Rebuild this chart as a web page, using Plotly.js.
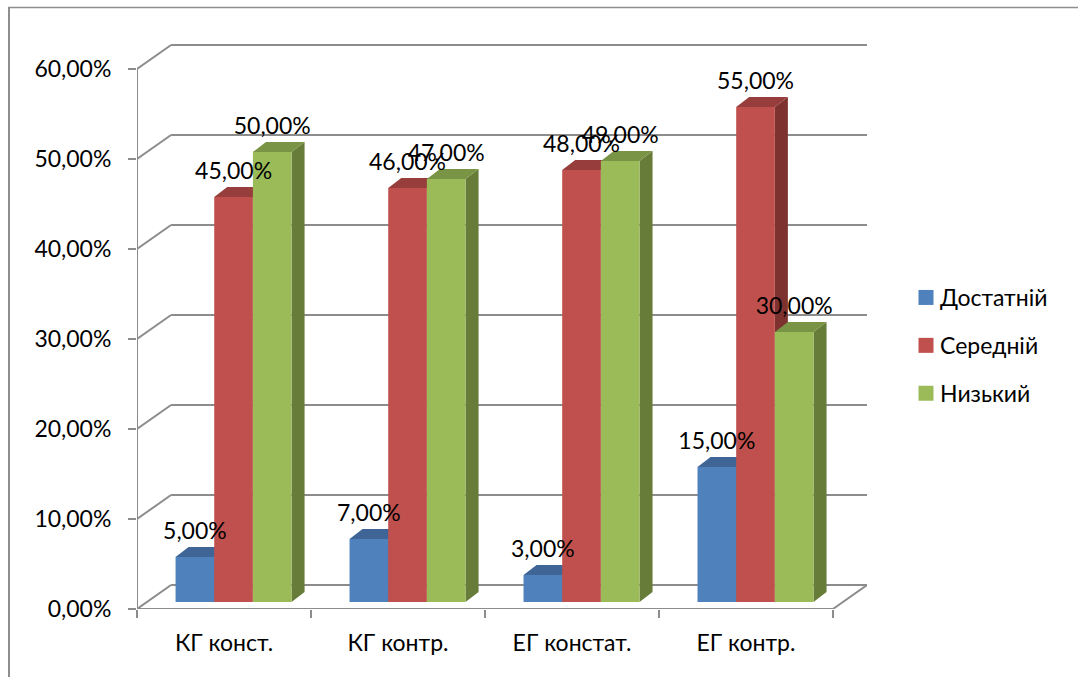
<!DOCTYPE html>
<html><head><meta charset="utf-8">
<script src="https://cdn.plot.ly/plotly-3.0.1.min.js"></script>
<style>html,body{margin:0;padding:0;background:#fff;overflow:hidden}</style>
</head><body><div id="chart" style="width:1078px;height:677px"></div>
<script>
const categories = ['КГ конст.', 'КГ контр.', 'ЕГ констат.', 'ЕГ контр.'];
const seriesNames = ['Достатній', 'Середній', 'Низький'];
const dostatniy = [5, 7, 3, 15];
const seredniy = [45, 46, 48, 55];
const nyzkyi = [50, 47, 49, 30];
const yTicks = [0, 10, 20, 30, 40, 50, 60];
const yTickText = ['0,00%', '10,00%', '20,00%', '30,00%', '40,00%', '50,00%', '60,00%'];
const frontColors = ['#4F81BD', '#C0504D', '#9BBB59'];
const topColors = ['#3E6596', '#973E3C', '#7A9445'];
const sideColors = ['#355680', '#7D3230', '#667C38'];

// pseudo-3D projection, in axis units
const wallDX = 34 / 173.7, wallDY = 24 / 9;   // depth of floor / back wall
const barDX = 13 / 173.7, barDY = 1.1;        // depth of a column
const barBase = 0.78, groupShift = 0.055;     // column position inside the floor
const barW = 2 / 9;
const all = [dostatniy, seredniy, nyzkyi];
const FONT = 'Lato, Carlito, Calibri, sans-serif';

const traces = [];
function faceTrace(xs, ys, color) {
  return {type: 'scatter', mode: 'lines', x: xs, y: ys, fill: 'toself', fillcolor: color,
    line: {width: 0, color: color}, hoverinfo: 'skip', showlegend: false};
}
all.forEach((vals, s) => {
  const fx = [], fy = [], tx = [], ty = [], sx = [], sy = [];
  vals.forEach((v, c) => {
    const l = c + groupShift + (s - 1.5) * barW, r = l + barW;
    const b = barBase, t = barBase + v;
    fx.push(l, r, r, l, l, null); fy.push(b, b, t, t, b, null);
    tx.push(l, r, r + barDX, l + barDX, l, null); ty.push(t, t, t + barDY, t + barDY, t, null);
    sx.push(r, r + barDX, r + barDX, r, r, null); sy.push(b, b + barDY, t + barDY, t, b, null);
  });
  traces.push(faceTrace(sx, sy, sideColors[s]));
  traces.push(faceTrace(tx, ty, topColors[s]));
  traces.push(faceTrace(fx, fy, frontColors[s]));
});
// data labels
const lx = [], ly = [], lt = [];
all.forEach((vals, s) => vals.forEach((v, c) => {
  lx.push(c + groupShift + (s - 1) * barW);
  ly.push(barBase + v + barDY + 1.55);
  lt.push(v.toFixed(2).replace('.', ',') + '%');
}));
traces.push({type: 'scatter', mode: 'text', x: lx, y: ly, text: lt, textposition: 'middle center',
  textfont: {family: FONT, size: 23, color: '#000'}, cliponaxis: false, hoverinfo: 'skip', showlegend: false});
// legend entries
seriesNames.forEach((n, s) => traces.push({type: 'scatter', mode: 'markers', name: n, x: [null], y: [null],
  legendgroup: n, marker: {symbol: 'square', size: 15, color: frontColors[s]}}));

const GRID = '#8C8C8C';
const shapes = [];
function seg(x0, y0, x1, y1, w) {
  shapes.push({type: 'line', xref: 'x', yref: 'y', x0, y0, x1, y1, layer: 'below', line: {color: GRID, width: w || 2}});
}
const xL = -0.5, xR = 3.5;
yTicks.forEach(v => {
  seg(xL, v, xL + wallDX, v + wallDY);
  seg(xL + wallDX, v + wallDY, xR + wallDX, v + wallDY);
});
seg(xL, 0, xL, 60);
seg(xL, 0, xR, 0);
seg(xR, 0, xR + wallDX, wallDY);
// outer frame of the embedded chart
const px = p => (p - 137) / 730, py = p => (609 - p) / 565;
shapes.push({type: 'line', xref: 'paper', yref: 'paper', x0: px(9), x1: px(9), y0: py(7.5), y1: py(677), line: {color: '#8E8E8E', width: 2}});
shapes.push({type: 'line', xref: 'paper', yref: 'paper', x0: px(8), x1: px(1078), y0: py(7.5), y1: py(7.5), line: {color: '#8E8E8E', width: 1.5}});

const layout = {
  width: 1078, height: 677, autosize: false,
  margin: {l: 137, r: 211, t: 44, b: 68, pad: 0},
  paper_bgcolor: '#fff', plot_bgcolor: 'rgba(0,0,0,0)',
  font: {family: FONT, color: '#000'},
  hovermode: false,
  xaxis: {type: 'linear', range: [xL, xR + wallDX], tickmode: 'array', tickvals: [0, 1, 2, 3], ticktext: categories,
    ticks: '', ticklen: 0, showgrid: false, zeroline: false, showline: false, fixedrange: true,
    tickfont: {family: FONT, size: 23, color: '#000'}, ticklabelstandoff: 18,
    minor: {tickmode: 'array', tickvals: [-0.5, 0.5, 1.5, 2.5, 3.5], ticks: 'outside', ticklen: 8, tickwidth: 2, tickcolor: GRID, showgrid: false}},
  yaxis: {type: 'linear', range: [0, 565 / 9], tickmode: 'array', tickvals: yTicks, ticktext: yTickText,
    ticks: 'outside', ticklen: 8, tickwidth: 2, tickcolor: GRID, showgrid: false, zeroline: false, showline: false, fixedrange: true,
    tickfont: {family: FONT, size: 23, color: '#000'}, ticklabelstandoff: 12},
  showlegend: true,
  legend: {x: px(900), y: py(276), xanchor: 'left', yanchor: 'top', tracegroupgap: 15, itemwidth: 30,
    font: {family: FONT, size: 23, color: '#000'}, bgcolor: 'rgba(0,0,0,0)', borderwidth: 0},
  shapes
};
Plotly.newPlot('chart', traces, layout, {displayModeBar: false, staticPlot: true}).then(() => {
  document.querySelectorAll('#chart .legend .legendpoints').forEach(g => g.setAttribute('transform', 'translate(6,0)'));
});
</script></body></html>
